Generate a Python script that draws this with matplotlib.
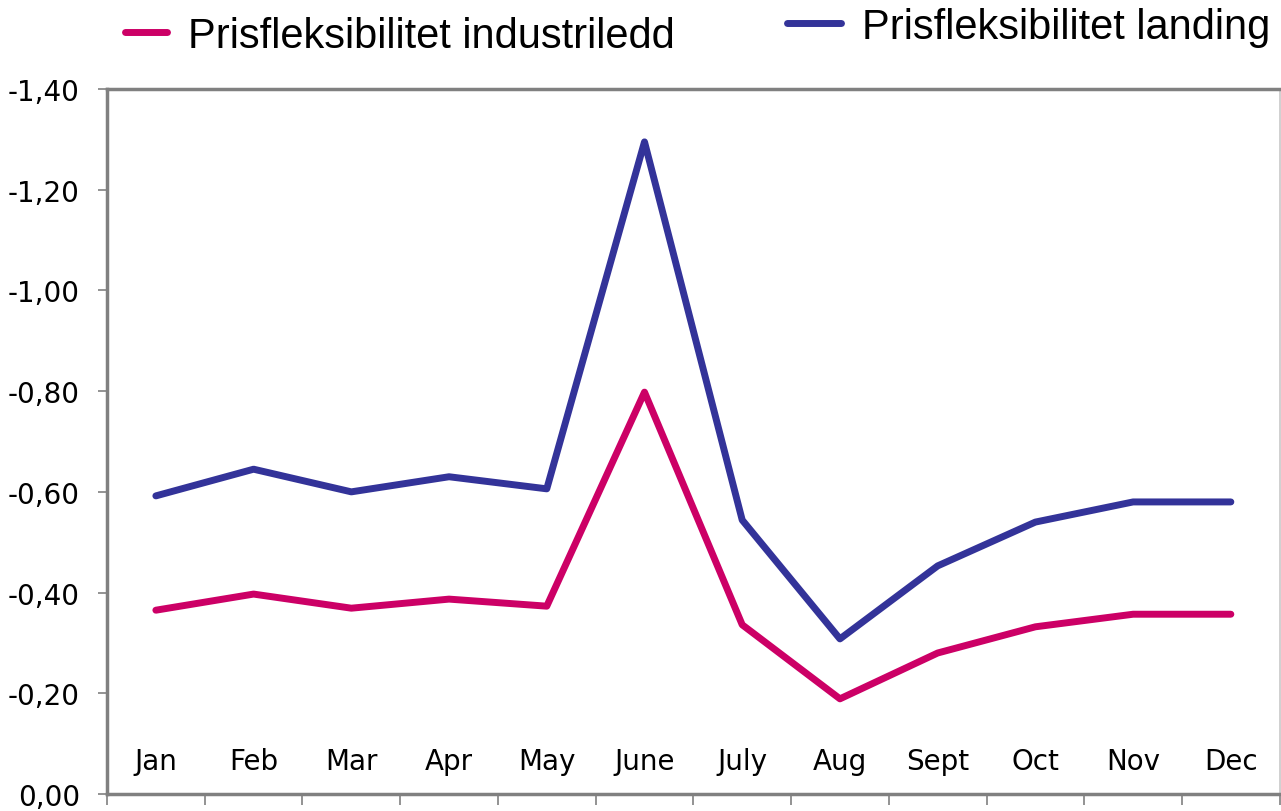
import matplotlib
matplotlib.use("Agg")
import matplotlib.pyplot as plt
import numpy as np

# Data
months = ['Jan', 'Feb', 'Mar', 'Apr', 'May', 'June', 'July', 'Aug', 'Sept', 'Oct', 'Nov', 'Dec']
industriledd = [-0.365, -0.397, -0.369, -0.387, -0.373, -0.798, -0.336, -0.189, -0.280, -0.332, -0.357, -0.357]
landing = [-0.592, -0.645, -0.600, -0.630, -0.606, -1.295, -0.544, -0.308, -0.453, -0.540, -0.580, -0.580]
yticks = [0.0, -0.2, -0.4, -0.6, -0.8, -1.0, -1.2, -1.4]

label_ind = 'Prisfleksibilitet industriledd'
label_land = 'Prisfleksibilitet landing'
col_ind = '#CC0066'
col_land = '#333399'
grey = '#808080'

plt.rcParams['font.family'] = ['DejaVu Sans']

fig = plt.figure(figsize=(12.81, 8.12), dpi=100)
ax = fig.add_axes([107 / 1281, 1 - 795 / 812, 1 - 107 / 1281 - 0.001, (795 - 90) / 812])

x = np.arange(len(months))
l1, = ax.plot(x, industriledd, color=col_ind, lw=5, solid_capstyle='round', solid_joinstyle='round')
l2, = ax.plot(x, landing, color=col_land, lw=5, solid_capstyle='round', solid_joinstyle='round')

# inverted y axis: 0 at bottom, -1.40 at top
ax.set_ylim(0, -1.4)
ax.set_xlim(-0.5, len(months) - 0.5)
ax.set_yticks(yticks)
ax.set_yticklabels([('%.2f' % v).replace('.', ',') if v != 0 else '0,00' for v in yticks], fontsize=20)
ax.tick_params(axis='y', length=6.5, width=1.2, color=grey, pad=13)

# category boundaries as ticks, labels drawn inside the plot
ax.set_xticks(np.arange(-0.5, len(months), 1.0))
ax.set_xticklabels([])
ax.tick_params(axis='x', length=8, width=1.2, color=grey)
for i, m in enumerate(months):
    ax.text(i, 0.047, m, transform=ax.get_xaxis_transform(), ha='center', va='center', fontsize=20)

for side in ['left', 'bottom', 'top']:
    ax.spines[side].set_color(grey)
    ax.spines[side].set_linewidth(2.5)
ax.spines['right'].set_color('#c8c8c8')
ax.spines['right'].set_linewidth(1.2)

# legends at the top
leg_kw = dict(loc='center left', frameon=False, borderpad=0, borderaxespad=0,
              handletextpad=0.5, prop={'family': 'Liberation Sans', 'size': 30})
fig.legend(handles=[l1], labels=[label_ind], bbox_to_anchor=(125 / 1281, 1 - 37 / 812),
           handlelength=1.0, **leg_kw)
fig.legend(handles=[l2], labels=[label_land], bbox_to_anchor=(787 / 1281, 1 - 28 / 812),
           handlelength=1.3, **leg_kw)

plt.savefig('out.png', dpi=100)
